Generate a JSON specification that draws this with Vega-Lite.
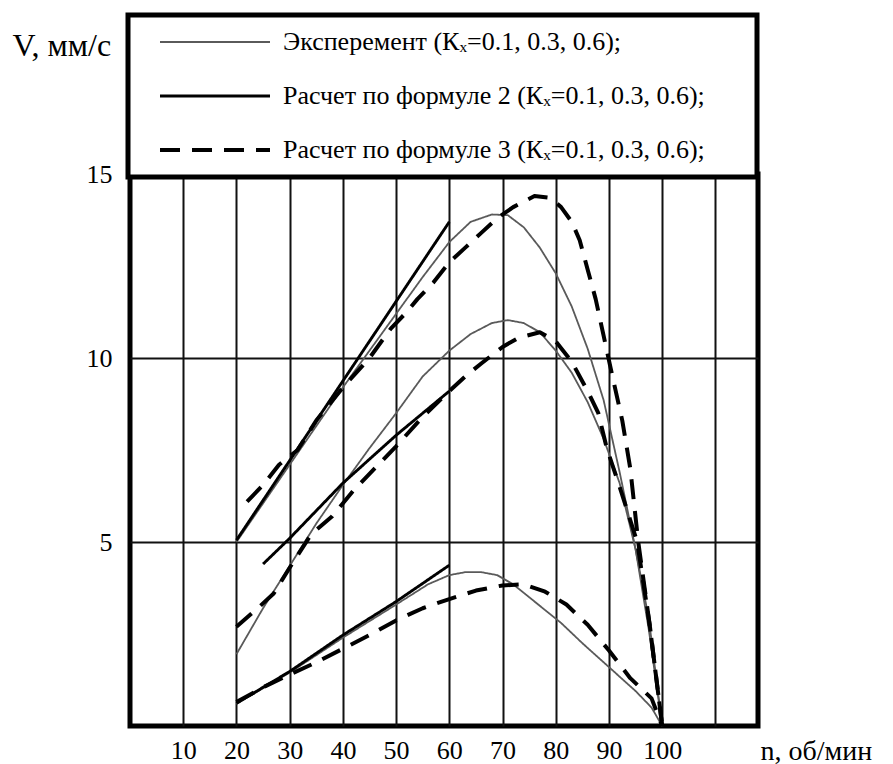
{
 "$schema": "https://vega.github.io/schema/vega-lite/v6.json",
 "width": 628, "height": 552,
 "autosize": {"type": "none"},
 "padding": {"left": 130, "top": 174, "right": 135, "bottom": 38},
 "background": "white",
 "config": {"view": {"stroke": "black", "strokeWidth": 5}, "font": "Liberation Serif"},
 "data": {"values": [
  {"series":"Эксперемент","k":"0.6","n":20,"v":5.0},{"series":"Эксперемент","k":"0.6","n":30,"v":7.1},{"series":"Эксперемент","k":"0.6","n":40,"v":9.2},{"series":"Эксперемент","k":"0.6","n":50,"v":11.2},{"series":"Эксперемент","k":"0.6","n":55,"v":12.2},{"series":"Эксперемент","k":"0.6","n":60,"v":13.15},{"series":"Эксперемент","k":"0.6","n":64,"v":13.7},{"series":"Эксперемент","k":"0.6","n":68,"v":13.9},{"series":"Эксперемент","k":"0.6","n":71,"v":13.88},{"series":"Эксперемент","k":"0.6","n":74,"v":13.55},{"series":"Эксперемент","k":"0.6","n":77,"v":13.0},{"series":"Эксперемент","k":"0.6","n":80,"v":12.3},{"series":"Эксперемент","k":"0.6","n":83,"v":11.4},{"series":"Эксперемент","k":"0.6","n":86,"v":10.25},{"series":"Эксперемент","k":"0.6","n":89,"v":8.85},{"series":"Эксперемент","k":"0.6","n":92,"v":6.9},{"series":"Эксперемент","k":"0.6","n":95,"v":4.8},{"series":"Эксперемент","k":"0.6","n":97.5,"v":2.6},{"series":"Эксперемент","k":"0.6","n":100,"v":0},
  {"series":"Эксперемент","k":"0.3","n":20,"v":1.95},{"series":"Эксперемент","k":"0.3","n":25,"v":3.2},{"series":"Эксперемент","k":"0.3","n":30,"v":4.35},{"series":"Эксперемент","k":"0.3","n":35,"v":5.5},{"series":"Эксперемент","k":"0.3","n":40,"v":6.55},{"series":"Эксперемент","k":"0.3","n":45,"v":7.55},{"series":"Эксперемент","k":"0.3","n":50,"v":8.5},{"series":"Эксперемент","k":"0.3","n":55,"v":9.5},{"series":"Эксперемент","k":"0.3","n":60,"v":10.2},{"series":"Эксперемент","k":"0.3","n":64,"v":10.65},{"series":"Эксперемент","k":"0.3","n":68,"v":10.95},{"series":"Эксперемент","k":"0.3","n":71,"v":11.03},{"series":"Эксперемент","k":"0.3","n":74,"v":10.95},{"series":"Эксперемент","k":"0.3","n":77,"v":10.7},{"series":"Эксперемент","k":"0.3","n":80,"v":10.2},{"series":"Эксперемент","k":"0.3","n":83,"v":9.6},{"series":"Эксперемент","k":"0.3","n":86,"v":8.8},{"series":"Эксперемент","k":"0.3","n":89,"v":7.8},{"series":"Эксперемент","k":"0.3","n":92,"v":6.6},{"series":"Эксперемент","k":"0.3","n":95,"v":4.8},{"series":"Эксперемент","k":"0.3","n":97.5,"v":2.9},{"series":"Эксперемент","k":"0.3","n":100,"v":0},
  {"series":"Эксперемент","k":"0.1","n":20,"v":0.6},{"series":"Эксперемент","k":"0.1","n":30,"v":1.45},{"series":"Эксперемент","k":"0.1","n":40,"v":2.4},{"series":"Эксперемент","k":"0.1","n":50,"v":3.3},{"series":"Эксперемент","k":"0.1","n":56,"v":3.85},{"series":"Эксперемент","k":"0.1","n":60,"v":4.1},{"series":"Эксперемент","k":"0.1","n":63,"v":4.18},{"series":"Эксперемент","k":"0.1","n":66,"v":4.18},{"series":"Эксперемент","k":"0.1","n":69,"v":4.1},{"series":"Эксперемент","k":"0.1","n":72,"v":3.85},{"series":"Эксперемент","k":"0.1","n":75,"v":3.5},{"series":"Эксперемент","k":"0.1","n":78,"v":3.15},{"series":"Эксперемент","k":"0.1","n":81,"v":2.8},{"series":"Эксперемент","k":"0.1","n":85,"v":2.25},{"series":"Эксперемент","k":"0.1","n":90,"v":1.6},{"series":"Эксперемент","k":"0.1","n":95,"v":0.95},{"series":"Эксперемент","k":"0.1","n":98,"v":0.5},{"series":"Эксперемент","k":"0.1","n":100,"v":0},
  {"series":"Расчет по формуле 2","k":"0.6","n":20,"v":5.05},{"series":"Расчет по формуле 2","k":"0.6","n":60,"v":13.7},
  {"series":"Расчет по формуле 2","k":"0.3","n":25,"v":4.4},{"series":"Расчет по формуле 2","k":"0.3","n":30,"v":5.1},{"series":"Расчет по формуле 2","k":"0.3","n":40,"v":6.6},{"series":"Расчет по формуле 2","k":"0.3","n":50,"v":7.9},{"series":"Расчет по формуле 2","k":"0.3","n":60,"v":9.1},
  {"series":"Расчет по формуле 2","k":"0.1","n":20,"v":0.62},{"series":"Расчет по формуле 2","k":"0.1","n":30,"v":1.48},{"series":"Расчет по формуле 2","k":"0.1","n":40,"v":2.47},{"series":"Расчет по формуле 2","k":"0.1","n":50,"v":3.38},{"series":"Расчет по формуле 2","k":"0.1","n":60,"v":4.37},
  {"series":"Расчет по формуле 3","k":"0.6","n":22,"v":6.1},{"series":"Расчет по формуле 3","k":"0.6","n":25,"v":6.55},{"series":"Расчет по формуле 3","k":"0.6","n":28,"v":7.1},{"series":"Расчет по формуле 3","k":"0.6","n":31.5,"v":7.5},{"series":"Расчет по формуле 3","k":"0.6","n":35,"v":8.3},{"series":"Расчет по формуле 3","k":"0.6","n":40,"v":9.2},{"series":"Расчет по формуле 3","k":"0.6","n":45,"v":10.0},{"series":"Расчет по формуле 3","k":"0.6","n":49,"v":10.8},{"series":"Расчет по формуле 3","k":"0.6","n":52,"v":11.25},{"series":"Расчет по формуле 3","k":"0.6","n":54,"v":11.6},{"series":"Расчет по формуле 3","k":"0.6","n":57,"v":12.05},{"series":"Расчет по формуле 3","k":"0.6","n":60,"v":12.6},{"series":"Расчет по формуле 3","k":"0.6","n":63,"v":13.0},{"series":"Расчет по формуле 3","k":"0.6","n":66,"v":13.4},{"series":"Расчет по формуле 3","k":"0.6","n":69,"v":13.8},{"series":"Расчет по формуле 3","k":"0.6","n":72,"v":14.1},{"series":"Расчет по формуле 3","k":"0.6","n":76,"v":14.4},{"series":"Расчет по формуле 3","k":"0.6","n":79,"v":14.35},{"series":"Расчет по формуле 3","k":"0.6","n":81,"v":14.1},{"series":"Расчет по формуле 3","k":"0.6","n":83,"v":13.7},{"series":"Расчет по формуле 3","k":"0.6","n":84.5,"v":13.2},{"series":"Расчет по формуле 3","k":"0.6","n":86,"v":12.4},{"series":"Расчет по формуле 3","k":"0.6","n":87.5,"v":11.6},{"series":"Расчет по формуле 3","k":"0.6","n":89,"v":10.6},{"series":"Расчет по формуле 3","k":"0.6","n":90.5,"v":9.6},{"series":"Расчет по формуле 3","k":"0.6","n":92.5,"v":8.3},{"series":"Расчет по формуле 3","k":"0.6","n":94,"v":7.0},{"series":"Расчет по формуле 3","k":"0.6","n":95.5,"v":5.0},{"series":"Расчет по формуле 3","k":"0.6","n":97.6,"v":2.8},{"series":"Расчет по формуле 3","k":"0.6","n":100,"v":0},
  {"series":"Расчет по формуле 3","k":"0.3","n":20,"v":2.7},{"series":"Расчет по формуле 3","k":"0.3","n":24,"v":3.2},{"series":"Расчет по формуле 3","k":"0.3","n":27,"v":3.6},{"series":"Расчет по формуле 3","k":"0.3","n":30,"v":4.3},{"series":"Расчет по формуле 3","k":"0.3","n":34,"v":5.2},{"series":"Расчет по формуле 3","k":"0.3","n":38,"v":5.7},{"series":"Расчет по формуле 3","k":"0.3","n":42,"v":6.4},{"series":"Расчет по формуле 3","k":"0.3","n":50,"v":7.6},{"series":"Расчет по формуле 3","k":"0.3","n":55,"v":8.4},{"series":"Расчет по формуле 3","k":"0.3","n":60,"v":9.1},{"series":"Расчет по формуле 3","k":"0.3","n":63,"v":9.5},{"series":"Расчет по формуле 3","k":"0.3","n":66,"v":9.85},{"series":"Расчет по формуле 3","k":"0.3","n":70,"v":10.3},{"series":"Расчет по формуле 3","k":"0.3","n":73,"v":10.55},{"series":"Расчет по формуле 3","k":"0.3","n":77,"v":10.7},{"series":"Расчет по формуле 3","k":"0.3","n":80,"v":10.45},{"series":"Расчет по формуле 3","k":"0.3","n":83,"v":9.9},{"series":"Расчет по формуле 3","k":"0.3","n":86,"v":9.1},{"series":"Расчет по формуле 3","k":"0.3","n":88,"v":8.5},{"series":"Расчет по формуле 3","k":"0.3","n":89.5,"v":7.6},{"series":"Расчет по формуле 3","k":"0.3","n":90.5,"v":7.15},{"series":"Расчет по формуле 3","k":"0.3","n":92,"v":6.5},{"series":"Расчет по формуле 3","k":"0.3","n":95.3,"v":5.0},{"series":"Расчет по формуле 3","k":"0.3","n":97.7,"v":2.7},{"series":"Расчет по формуле 3","k":"0.3","n":100,"v":0},
  {"series":"Расчет по формуле 3","k":"0.1","n":20,"v":0.65},{"series":"Расчет по формуле 3","k":"0.1","n":25,"v":1.05},{"series":"Расчет по формуле 3","k":"0.1","n":30,"v":1.4},{"series":"Расчет по формуле 3","k":"0.1","n":35,"v":1.73},{"series":"Расчет по формуле 3","k":"0.1","n":40,"v":2.1},{"series":"Расчет по формуле 3","k":"0.1","n":45,"v":2.47},{"series":"Расчет по формуле 3","k":"0.1","n":50,"v":2.87},{"series":"Расчет по формуле 3","k":"0.1","n":55,"v":3.2},{"series":"Расчет по формуле 3","k":"0.1","n":60,"v":3.45},{"series":"Расчет по формуле 3","k":"0.1","n":65,"v":3.68},{"series":"Расчет по формуле 3","k":"0.1","n":70,"v":3.82},{"series":"Расчет по формуле 3","k":"0.1","n":74,"v":3.85},{"series":"Расчет по формуле 3","k":"0.1","n":78,"v":3.65},{"series":"Расчет по формуле 3","k":"0.1","n":82,"v":3.3},{"series":"Расчет по формуле 3","k":"0.1","n":86,"v":2.75},{"series":"Расчет по формуле 3","k":"0.1","n":90,"v":2.05},{"series":"Расчет по формуле 3","k":"0.1","n":94,"v":1.3},{"series":"Расчет по формуле 3","k":"0.1","n":98,"v":0.75},{"series":"Расчет по формуле 3","k":"0.1","n":100,"v":0}
 ]},
 "mark": {"type": "line", "strokeCap": "butt", "strokeJoin": "round"},
 "encoding": {
  "x": {"field": "n", "type": "quantitative", "scale": {"domain": [0, 118], "nice": false, "zero": false},
   "axis": {"values": [10,20,30,40,50,60,70,80,90,100,110], "grid": true, "gridColor": "#111", "gridWidth": 2, "gridOpacity": 1, "domain": false, "ticks": false,
    "labelFont": "Liberation Serif", "labelFontSize": 26, "labelColor": "black", "labelPadding": 11, "labelExpr": "datum.value > 100 ? '' : datum.label",
    "title": "n, об/мин", "titleFont": "Liberation Serif", "titleFontSize": 28, "titleFontWeight": "normal", "titleColor": "black", "titleAlign": "left", "titleAnchor": "start", "titleX": 630, "titleY": 33, "titleBaseline": "alphabetic"}},
  "y": {"field": "v", "type": "quantitative", "scale": {"domain": [0, 15], "nice": false},
   "axis": {"values": [5,10,15], "grid": true, "gridColor": "#111", "gridWidth": 2, "gridOpacity": 1, "domain": false, "ticks": false,
    "labelFont": "Liberation Serif", "labelFontSize": 26, "labelColor": "black", "labelPadding": 18, "labelBaseline": "middle",
    "title": "V, мм/с", "titleFont": "Liberation Serif", "titleFontSize": 32, "titleFontWeight": "normal", "titleColor": "black", "titleAngle": 0, "titleAlign": "left", "titleAnchor": "start", "titleX": -118, "titleY": -129, "titleBaseline": "middle"}},
  "color": {"field": "series", "type": "nominal", "scale": {"domain": ["Эксперемент", "Расчет по формуле 2", "Расчет по формуле 3"], "range": ["#5a5a5a", "black", "black"]},
   "legend": {"orient": "none", "legendX": -2, "legendY": -159, "title": null, "symbolType": "M-10,0H10", "symbolSize": 121, "symbolOffset": 60, "labelOffset": 55, "padding": 14, "rowPadding": 28, "strokeColor": "black", "fillColor": "white", "labelFont": "Liberation Serif", "labelFontSize": 26, "labelColor": "black", "labelLimit": 0,
    "labelExpr": "datum.label + ' (Кₓ=0.1, 0.3, 0.6);\u2800\u2800'",
    "encode": {"legend": {"update": {"strokeWidth": {"value": 5}}}}}},
  "strokeWidth": {"field": "series", "type": "nominal", "scale": {"domain": ["Эксперемент", "Расчет по формуле 2", "Расчет по формуле 3"], "range": [1.8, 4, 4.5]},
   "legend": {"orient": "none", "legendX": -2, "legendY": -159, "title": null, "symbolType": "M-10,0H10", "symbolSize": 121, "symbolOffset": 60, "labelOffset": 55, "padding": 14, "rowPadding": 28, "strokeColor": "black", "fillColor": "white", "labelFont": "Liberation Serif", "labelFontSize": 26, "labelColor": "black", "labelLimit": 0,
    "labelExpr": "datum.label + ' (Кₓ=0.1, 0.3, 0.6);\u2800\u2800'",
    "encode": {"legend": {"update": {"strokeWidth": {"value": 5}}}}}},
  "strokeDash": {"field": "series", "type": "nominal", "scale": {"domain": ["Эксперемент", "Расчет по формуле 2", "Расчет по формуле 3"], "range": [[1, 0], [1, 0], [20, 12]]},
   "legend": {"orient": "none", "legendX": -2, "legendY": -159, "title": null, "symbolType": "M-10,0H10", "symbolSize": 121, "symbolOffset": 60, "labelOffset": 55, "padding": 14, "rowPadding": 28, "strokeColor": "black", "fillColor": "white", "labelFont": "Liberation Serif", "labelFontSize": 26, "labelColor": "black", "labelLimit": 0,
    "labelExpr": "datum.label + ' (Кₓ=0.1, 0.3, 0.6);\u2800\u2800'",
    "encode": {"legend": {"update": {"strokeWidth": {"value": 5}}}}}},
  "detail": {"field": "k", "type": "nominal"}
 }
}
